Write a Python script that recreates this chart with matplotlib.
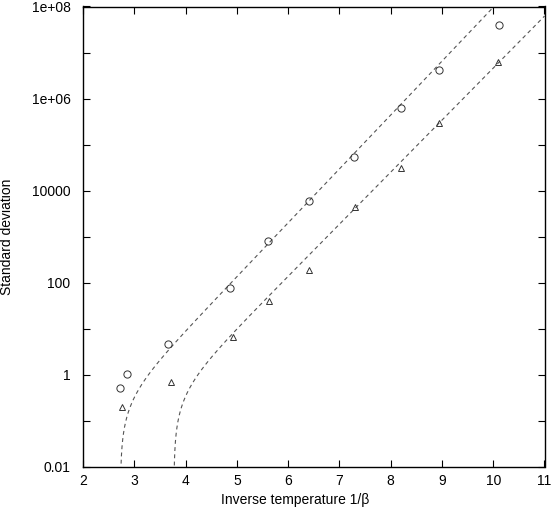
import numpy as np
import matplotlib
matplotlib.use("Agg")
import matplotlib.pyplot as plt
from matplotlib.ticker import FixedLocator, FuncFormatter, NullLocator

plt.rcParams['font.family'] = ['Liberation Sans', 'DejaVu Sans']

# circles
circ_x = [2.72, 2.85, 3.65, 4.86, 5.61, 6.41, 7.29, 8.21, 8.95, 10.11]
circ_y = [0.53, 1.05, 4.6, 76, 820, 5970, 54700, 6.15e5, 4.18e6, 3.9e7]
# triangles
tri_x = [2.76, 3.72, 4.92, 5.63, 6.41, 7.30, 8.20, 8.95, 10.10]
tri_y = [0.198, 0.71, 6.56, 40.8, 190, 4370, 30600, 2.91e5, 6.3e6]

# fitted curves: y = 10**(a + b*x) - c
fit1 = dict(a=8 - 1.17 * 10.015, b=1.17, c=0.298)
fit2 = dict(a=-4.638, b=1.13, c=0.42)

ytick_vals = [1e-2, 1e-1, 1, 10, 100, 1e3, 1e4, 1e5, 1e6, 1e7, 1e8]
ytick_labels = {1e-2: "0.01", 1: "1", 100: "100", 1e4: "10000", 1e6: "1e+06", 1e8: "1e+08"}
xticks = [2, 3, 4, 5, 6, 7, 8, 9, 10, 11]

fig = plt.figure(figsize=(5.55, 5.15), dpi=100)
ax = fig.add_axes([83 / 555, 48 / 515, (544.5 - 83) / 555, (467 - 6.5) / 515])

col = '#555555'
for p in (fit1, fit2):
    xs = np.linspace(2, 11, 4000)
    ys = 10 ** (p['a'] + p['b'] * xs) - p['c']
    ys = np.where(ys > 0, ys, np.nan)
    ax.plot(xs, ys, ls=(0, (3.5, 3)), color=col, lw=0.8)

ax.plot(circ_x, circ_y, ls='none', marker='o', ms=5.2, mfc='none', mec='#333333', mew=0.7)
ax.plot(tri_x, tri_y, ls='none', marker='^', ms=5.0, mfc='none', mec='#333333', mew=0.7)

ax.set_yscale('log')
ax.set_xlim(2, 11)
ax.set_ylim(1e-2, 1e8)
ax.yaxis.set_major_locator(FixedLocator(ytick_vals))
ax.yaxis.set_minor_locator(NullLocator())
ax.yaxis.set_major_formatter(FuncFormatter(lambda v, pos: next((s for k, s in ytick_labels.items() if abs(np.log10(v) - np.log10(k)) < 1e-6), "")))
ax.set_xticks(xticks)
ax.set_xticklabels([str(t) for t in xticks])

ax.tick_params(axis='both', which='both', direction='in', top=True, right=True,
               length=5, width=0.8, labelsize=10, colors='black')
ax.tick_params(axis='y', pad=9)
ax.tick_params(axis='x', pad=5)
for s in ax.spines.values():
    s.set_linewidth(1.0)

ax.set_xlabel("Inverse temperature 1/\u03b2", fontsize=10)
ax.xaxis.set_label_coords(0.459, -0.056)
ax.set_ylabel("Standard deviation", fontsize=10)
ax.yaxis.set_label_coords(-0.149, 0.5)

fig.savefig("out.png", dpi=100)
